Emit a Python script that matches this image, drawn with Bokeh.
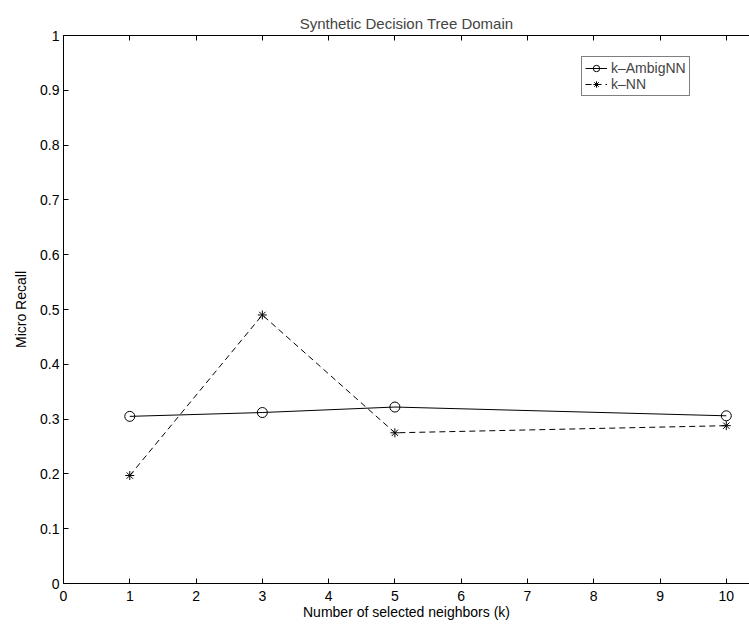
from bokeh.plotting import figure
from bokeh.models import LinearAxis, Legend, LegendItem, Range1d, FixedTicker
from bokeh.embed import file_html
from bokeh.resources import INLINE

k_values = [1, 3, 5, 10]
ambig_nn = [0.305, 0.312, 0.322, 0.306]
knn = [0.197, 0.490, 0.275, 0.288]
x_ticks = list(range(0, 11))
y_ticks = [0, 0.1, 0.2, 0.3, 0.4, 0.5, 0.6, 0.7, 0.8, 0.9, 1]
y_tick_labels = {0: "0", 0.1: "0.1", 0.2: "0.2", 0.3: "0.3", 0.4: "0.4", 0.5: "0.5",
                 0.6: "0.6", 0.7: "0.7", 0.8: "0.8", 0.9: "0.9", 1: "1"}

FONT = "Liberation Sans"
FS = "14px"

p = figure(width=749, height=628, output_backend="svg", toolbar_location=None,
           x_range=Range1d(0, 10.35), y_range=Range1d(0, 1),
           min_border_left=63, min_border_right=0, min_border_top=35, min_border_bottom=45,
           title="Synthetic Decision Tree Domain", x_axis_label="Number of selected neighbors (k)",
           y_axis_label="Micro Recall")
p.outline_line_color = None
p.xgrid.visible = False
p.ygrid.visible = False
p.background_fill_color = "white"
p.border_fill_color = "white"

p.title.align = "center"
p.title.text_font = FONT
p.title.text_font_size = "15px"
p.title.text_font_style = "normal"
p.title.standoff = 8

for ax in [p.xaxis[0], p.yaxis[0]]:
    ax.axis_label_text_font = FONT
    ax.axis_label_text_font_size = FS
    ax.axis_label_text_font_style = "normal"
    ax.major_label_text_font = FONT
    ax.major_label_text_font_size = FS
    ax.major_tick_in = 5
    ax.major_tick_out = 0
    ax.minor_tick_in = 0
    ax.minor_tick_out = 0
    ax.axis_line_color = "black"
    ax.major_tick_line_color = "black"
    ax.major_label_text_color = "black"
    ax.axis_label_text_color = "black"

p.xaxis[0].ticker = FixedTicker(ticks=x_ticks)
p.yaxis[0].ticker = FixedTicker(ticks=y_ticks)
p.yaxis[0].major_label_overrides = y_tick_labels
p.xaxis[0].major_label_standoff = 7
p.xaxis[0].axis_label_standoff = 0
p.yaxis[0].major_label_standoff = 4
p.yaxis[0].axis_label_standoff = 8

top = LinearAxis(ticker=FixedTicker(ticks=x_ticks), major_label_text_font_size="1px",
                 major_label_text_color=None,
                 major_tick_in=5, major_tick_out=0, minor_tick_in=0, minor_tick_out=0,
                 axis_line_color="black", major_tick_line_color="black",
                 major_label_standoff=0)
p.add_layout(top, "above")

l1 = p.line(k_values, ambig_nn, line_color="black", line_width=1)
m1 = p.scatter(k_values, ambig_nn, marker="circle", size=10, fill_color=None,
               line_color="black", line_width=1)
l2 = p.line(k_values, knn, line_color="black", line_width=1, line_dash="6 4")
m2 = p.scatter(k_values, knn, marker="asterisk", size=9, line_color="black", line_width=1)

legend = Legend(items=[LegendItem(label="k–AmbigNN", renderers=[l1, m1]),
                       LegendItem(label="k–NN", renderers=[l2, m2])],
                location=(518, 487))
legend.label_text_font = FONT
legend.label_text_font_size = FS
legend.border_line_color = "black"
legend.border_line_width = 1
legend.background_fill_alpha = 1
legend.padding = 3
legend.spacing = 0
legend.margin = 0
legend.glyph_width = 22
legend.glyph_height = 16
legend.label_height = 16
legend.label_standoff = 4
p.add_layout(legend, "center")

open("out.html", "w").write(file_html(p, INLINE))
